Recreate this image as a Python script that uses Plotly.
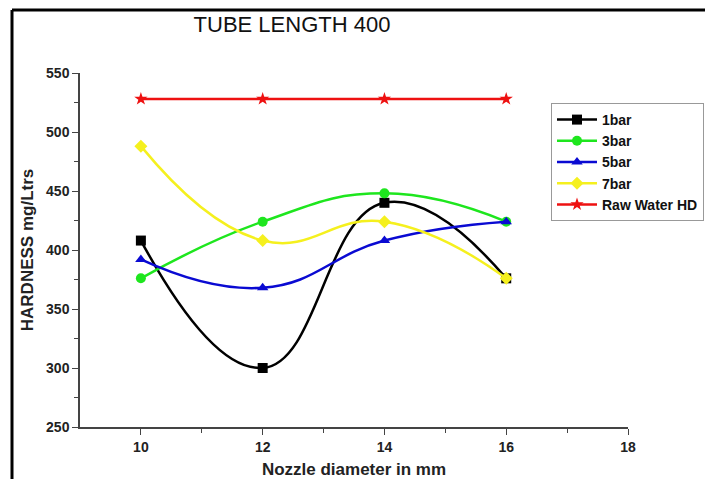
import plotly.graph_objects as go

x_vals = [10, 12, 14, 16]
bar1 = [408, 300, 440, 376]
bar3 = [376, 424, 448, 424]
bar5 = [392, 368, 408, 424]
bar7 = [488, 408, 424, 376]
raw_water = [528, 528, 528, 528]

series = [
    ("1bar", bar1, "#000000", "square"),
    ("3bar", bar3, "#1ee61e", "circle"),
    ("5bar", bar5, "#0a0ad2", "triangle-up"),
    ("7bar", bar7, "#f5f01e", "diamond"),
]

W, H = 705, 479
L, R, T, B = 80, 77, 73, 52
pw, ph = W - L - R, H - T - B

fig = go.Figure()
for name, ys, col, sym in series:
    fig.add_trace(go.Scatter(
        x=x_vals, y=ys, name="<b>" + name + "</b>", mode="lines+markers",
        line=dict(color=col, width=2.5, shape="spline", smoothing=1.3),
        marker=dict(color=col, symbol=sym, size=10),
    ))
fig.add_trace(go.Scatter(
    x=x_vals, y=raw_water, name="<b>Raw Water HD</b>", mode="lines+markers",
    line=dict(color="#ee1111", width=2.5),
    marker=dict(color="#ee1111", symbol="star", size=10),
))

tfont = dict(family="Arial, Liberation Sans", size=14, color="#222222", weight="bold")
fig.update_layout(
    width=W, height=H,
    margin=dict(l=L, r=R, t=T, b=B, autoexpand=False),
    paper_bgcolor="white", plot_bgcolor="white",
    title=dict(text="TUBE LENGTH 400", x=(292) / W, xanchor="center",
               y=1 - 24 / H, yanchor="middle",
               font=dict(family="Arial, Liberation Sans", size=22, color="#111111")),
    xaxis=dict(range=[9, 18], tickvals=[10, 12, 14, 16, 18], ticks="outside",
               ticklen=6, tickwidth=1.2, tickcolor="#444444",
               showline=True, linecolor="#444444", linewidth=1.5,
               showgrid=False, zeroline=False,
               minor=dict(tickvals=[11, 13, 15, 17], ticks="outside", ticklen=4,
                          tickcolor="#444444"),
               tickfont=tfont,
               title=dict(text="<b>Nozzle diameter in mm</b>", standoff=10,
                          font=dict(family="Arial, Liberation Sans", size=17, color="#222222"))),
    yaxis=dict(range=[250, 550], tickvals=[250, 300, 350, 400, 450, 500, 550],
               ticks="outside", ticklen=6, tickwidth=1.2, tickcolor="#444444",
               showline=True, linecolor="#444444", linewidth=1.5,
               showgrid=False, zeroline=False,
               minor=dict(tickvals=[275, 325, 375, 425, 475, 525], ticks="outside",
                          ticklen=4, tickcolor="#444444"),
               tickfont=tfont,
               title=dict(text="<b>HARDNESS mg/Ltrs</b>", standoff=8,
                          font=dict(family="Arial, Liberation Sans", size=17, color="#222222"))),
    legend=dict(x=(551 - L) / pw, y=(H - B - 103) / ph, xanchor="left", yanchor="top",
                bgcolor="white", bordercolor="#999999", borderwidth=1,
                font=dict(family="Arial, Liberation Sans", size=14, color="#111111"),
                tracegroupgap=0, itemwidth=40),
    showlegend=True,
)

# figure border (top and left)
fig.add_shape(type="line", xref="paper", yref="paper",
              x0=(12 - L) / pw, x1=(W - L) / pw, y0=(H - B - 10) / ph, y1=(H - B - 10) / ph,
              line=dict(color="black", width=3))
fig.add_shape(type="line", xref="paper", yref="paper",
              x0=(12 - L) / pw, x1=(12 - L) / pw, y0=(H - B - 10) / ph, y1=-B / ph,
              line=dict(color="black", width=3))

fig.write_html("out.html")
